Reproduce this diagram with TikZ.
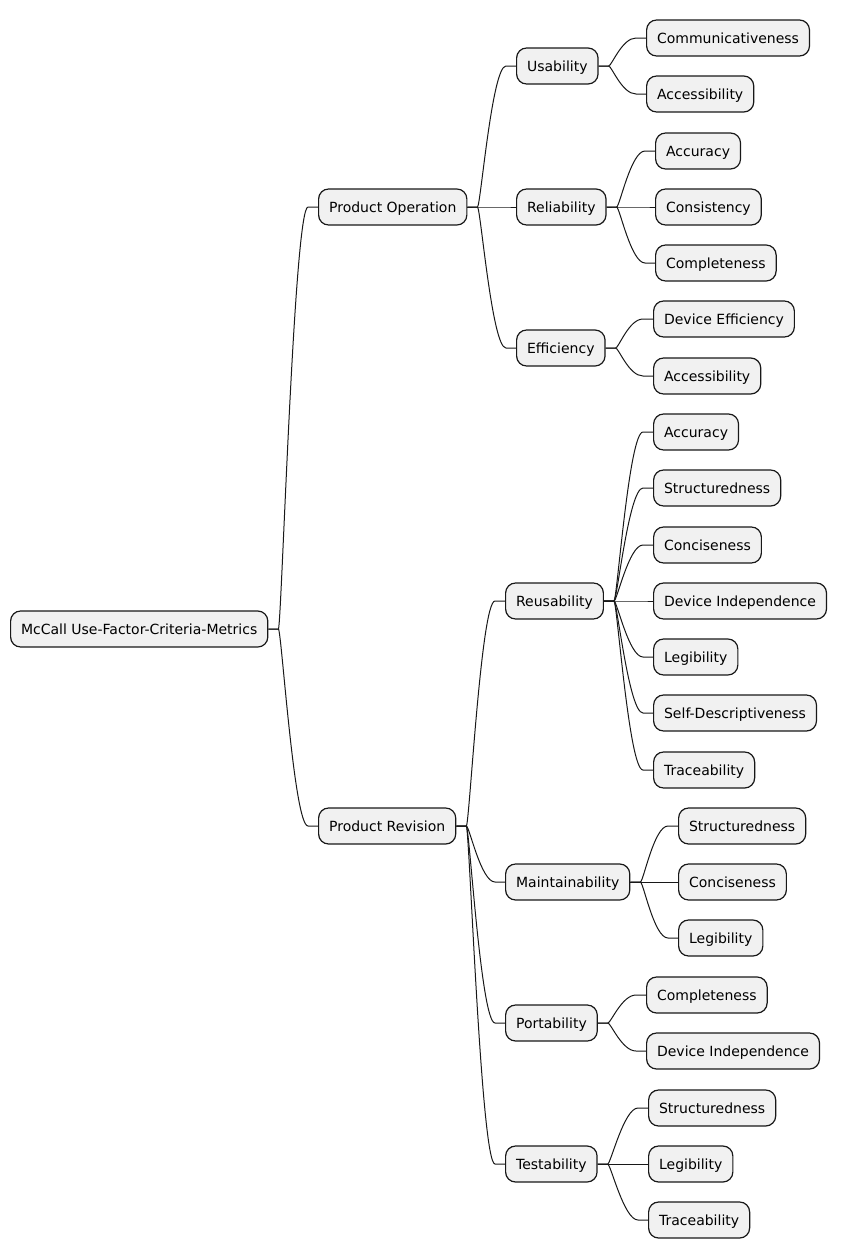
\documentclass[tikz,border=0pt]{standalone}
\usepackage{fontspec}
\setmainfont{DejaVu Sans}
\usepackage{xcolor}
\usetikzlibrary{calc}

\definecolor{boxfill}{HTML}{F1F1F1}
\definecolor{boxline}{HTML}{181818}

\tikzset{
  topic/.style={
    draw=boxline,
    fill=boxfill,
    line width=1.2pt,
    rounded corners=10pt,
    anchor=west,
    inner xsep=10.5pt,
    inner ysep=0pt,
    minimum height=36pt,
    text height=12pt,
    text depth=2pt,
    font=\fontsize{14}{16}\selectfont
  },
  branch/.style={
    draw=boxline,
    line width=1pt,
    to path={-- ++(10,0)
      .. controls +(3,0) and ($(\tikztotarget)+(-24,0)$) .. ($(\tikztotarget)+(-10,0)$)
      -- (\tikztotarget)}
  }
}

\begin{document}
\begin{tikzpicture}[x=1pt, y=-1pt]
\useasboundingbox (0,0) rectangle (844,1258);

% Root
\node[topic] (root) at (10,629) {McCall Use-Factor-Criteria-Metrics};

% Level 1
\node[topic] (prodop) at (318,207) {Product Operation};
\node[topic] (prodrev) at (318,826) {Product Revision};

% Level 2
\node[topic] (usab) at (516,66) {Usability};
\node[topic] (reliab) at (516,207) {Reliability};
\node[topic] (effic) at (516,348) {Efficiency};

\node[topic] (reusab) at (505,601) {Reusability};
\node[topic] (maint) at (505,882) {Maintainability};
\node[topic] (port) at (505,1023) {Portability};
\node[topic] (testab) at (505,1164) {Testability};

% Leaves
\node[topic] (comm) at (646,38) {Communicativeness};
\node[topic] (access1) at (646,94) {Accessibility};

\node[topic] (accur1) at (655,151) {Accuracy};
\node[topic] (consist) at (655,207) {Consistency};
\node[topic] (complete1) at (655,263) {Completeness};

\node[topic] (deveff) at (653,319) {Device Efficiency};
\node[topic] (access2) at (653,376) {Accessibility};

\node[topic] (accur2) at (653,432) {Accuracy};
\node[topic] (struct1) at (653,488) {Structuredness};
\node[topic] (concise1) at (653,545) {Conciseness};
\node[topic] (devind1) at (653,601) {Device Independence};
\node[topic] (legib1) at (653,657) {Legibility};
\node[topic] (selfdesc) at (653,713) {Self-Descriptiveness};
\node[topic] (trace1) at (653,770) {Traceability};

\node[topic] (struct2) at (678,826) {Structuredness};
\node[topic] (concise2) at (678,882) {Conciseness};
\node[topic] (legib2) at (678,938) {Legibility};

\node[topic] (complete2) at (646,995) {Completeness};
\node[topic] (devind2) at (646,1051) {Device Independence};

\node[topic] (struct3) at (648,1108) {Structuredness};
\node[topic] (legib3) at (648,1164) {Legibility};
\node[topic] (trace2) at (648,1220) {Traceability};

% Branches
\draw[branch] (root.east) to (prodop.west);
\draw[branch] (root.east) to (prodrev.west);

\draw[branch] (prodop.east) to (usab.west);
\draw[branch] (prodop.east) to (reliab.west);
\draw[branch] (prodop.east) to (effic.west);

\draw[branch] (prodrev.east) to (reusab.west);
\draw[branch] (prodrev.east) to (maint.west);
\draw[branch] (prodrev.east) to (port.west);
\draw[branch] (prodrev.east) to (testab.west);

\draw[branch] (usab.east) to (comm.west);
\draw[branch] (usab.east) to (access1.west);

\draw[branch] (reliab.east) to (accur1.west);
\draw[branch] (reliab.east) to (consist.west);
\draw[branch] (reliab.east) to (complete1.west);

\draw[branch] (effic.east) to (deveff.west);
\draw[branch] (effic.east) to (access2.west);

\draw[branch] (reusab.east) to (accur2.west);
\draw[branch] (reusab.east) to (struct1.west);
\draw[branch] (reusab.east) to (concise1.west);
\draw[branch] (reusab.east) to (devind1.west);
\draw[branch] (reusab.east) to (legib1.west);
\draw[branch] (reusab.east) to (selfdesc.west);
\draw[branch] (reusab.east) to (trace1.west);

\draw[branch] (maint.east) to (struct2.west);
\draw[branch] (maint.east) to (concise2.west);
\draw[branch] (maint.east) to (legib2.west);

\draw[branch] (port.east) to (complete2.west);
\draw[branch] (port.east) to (devind2.west);

\draw[branch] (testab.east) to (struct3.west);
\draw[branch] (testab.east) to (legib3.west);
\draw[branch] (testab.east) to (trace2.west);

\end{tikzpicture}
\end{document}
